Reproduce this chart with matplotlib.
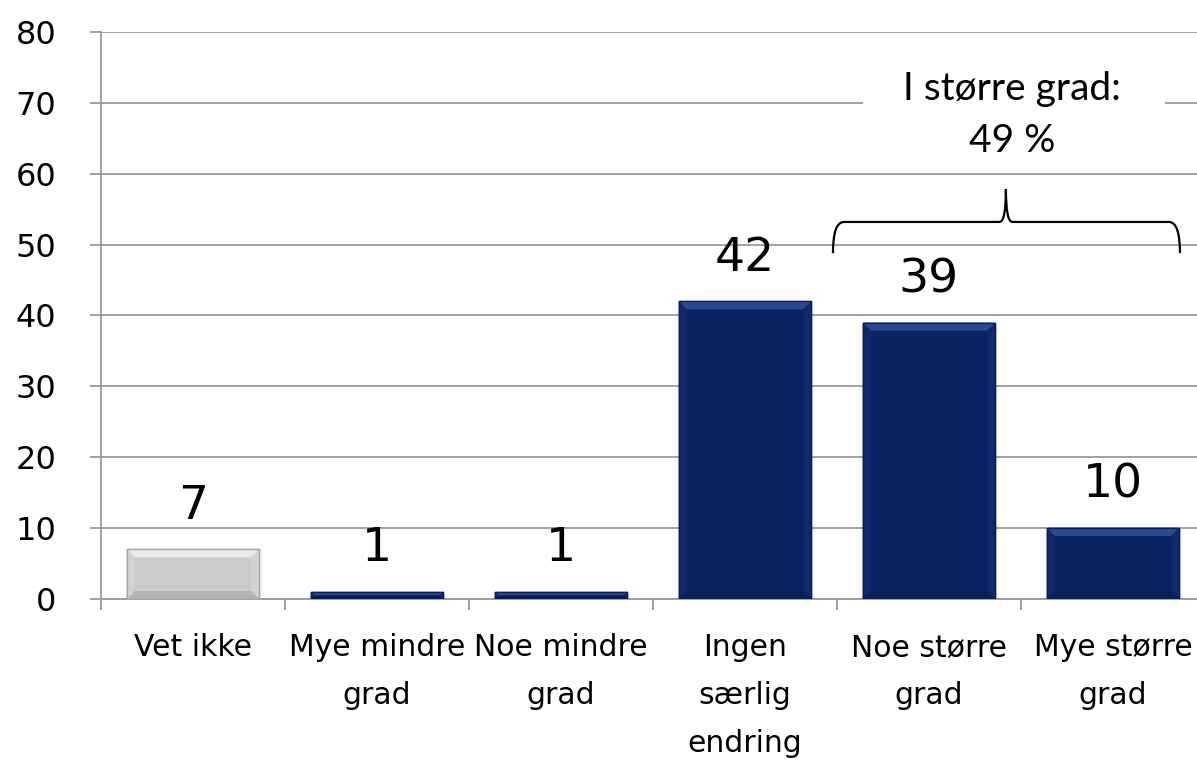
import matplotlib
matplotlib.use("Agg")
import matplotlib.pyplot as plt
from matplotlib.patches import Polygon, Rectangle, PathPatch
from matplotlib.path import Path

plt.rcParams["font.family"] = ["DejaVu Sans"]

categories = ["Vet ikke", "Mye mindre\ngrad", "Noe mindre\ngrad",
              "Ingen\nsærlig\nendring", "Noe større\ngrad", "Mye større\ngrad"]
values = [7, 1, 1, 42, 39, 10]
value_labels = ["7", "1", "1", "42", "39", "10"]
yticks = [0, 10, 20, 30, 40, 50, 60, 70, 80]
bracket_text = "I større grad:\n49 %"

W, H = 1197, 760
fig = plt.figure(figsize=(W / 100, H / 100), dpi=100)
ax = fig.add_axes([101 / W, 1 - 599 / H, 1104 / W, (599 - 32) / H])

GRID = "#9a9a9a"
ax.set_xlim(-0.5, len(categories) - 0.5)
ax.set_ylim(0, 80)
ax.set_yticks(yticks)
ax.set_yticklabels([str(t) for t in yticks])
for s in ["top", "right"]:
    ax.spines[s].set_visible(False)
for s in ["left", "bottom"]:
    ax.spines[s].set_color(GRID)
    ax.spines[s].set_linewidth(1.3)
ax.yaxis.grid(True, color=GRID, linewidth=1.3)
ax.set_axisbelow(True)

ax.tick_params(axis="y", length=8, width=1.3, color=GRID, pad=24,
               labelsize=23, labelcolor="black")
ax.set_xticks(range(len(categories)))
ax.set_xticklabels(categories, fontsize=21.5, linespacing=1.83, va="top")
ax.tick_params(axis="x", which="major", length=0, pad=24.5)
ax.set_xticks([i - 0.5 for i in range(len(categories) + 1)], minor=True)
ax.tick_params(axis="x", which="minor", length=8, width=1.3, color=GRID)

colors = ["#cbcbcb"] + ["#0a2463"] * 5
bevels = [("#e9e9e9", "#d2d2d2", "#b4b4b4")] + [("#2a4b92", "#0e2a6c", "#081e55")] * 5
edges = ["#a5a5a5"] + ["#0a1f58"] * 5
bars = ax.bar(range(len(categories)), values, width=0.72, color=colors,
              edgecolor=edges, linewidth=1.0, zorder=3)

# bevel effect
px_x = 1 / 184.0
px_y = 80 / 567.0
for bar, (top_c, side_c, bot_c) in zip(bars, bevels):
    x0, w, h = bar.get_x(), bar.get_width(), bar.get_height()
    x1 = x0 + w
    by = min(8 * px_y, h / 2)
    bx = by / px_y * px_x
    ax.add_patch(Polygon([(x0, h), (x1, h), (x1 - bx, h - by), (x0 + bx, h - by)],
                         closed=True, facecolor=top_c, edgecolor="none", zorder=4))
    ax.add_patch(Polygon([(x0, 0), (x0 + bx, by), (x0 + bx, h - by), (x0, h)],
                         closed=True, facecolor=side_c, edgecolor="none", zorder=4))
    ax.add_patch(Polygon([(x1, 0), (x1 - bx, by), (x1 - bx, h - by), (x1, h)],
                         closed=True, facecolor=side_c, edgecolor="none", zorder=4))
    ax.add_patch(Polygon([(x0, 0), (x1, 0), (x1 - bx, by), (x0 + bx, by)],
                         closed=True, facecolor=bot_c, edgecolor="none", zorder=4))
    ax.add_patch(Rectangle((x0, 0), w, h, facecolor="none", edgecolor=bar.get_edgecolor(),
                           linewidth=1.0, zorder=5))

for i, (v, lab) in enumerate(zip(values, value_labels)):
    ax.annotate(lab, xy=(i, v), xytext=(0, 22), textcoords="offset points",
                ha="center", va="baseline", fontsize=34, color="black", zorder=6)

# white box behind the bracket text (interrupts grid line)
ax.add_patch(Rectangle((3.641, 62.0), 1.642, 14.0, facecolor="white",
                       edgecolor="none", zorder=2))
ax.text(4.45, 68.3, bracket_text, ha="center", va="center", fontsize=28,
        family=["Lato", "DejaVu Sans"], linespacing=1.55, zorder=6)

# curly brace
xL, xR, xm = 3.478, 5.364, 4.418
yb, yt, ytip = 48.8, 53.2, 57.8
r = 0.06
rm = 0.035
verts = [(xL, yb), (xL, yt), (xL + r, yt),
         (xm - rm, yt), (xm, yt), (xm, ytip),
         (xm, yt), (xm + rm, yt),
         (xR - r, yt), (xR, yt), (xR, yb)]
codes = [Path.MOVETO, Path.CURVE3, Path.CURVE3,
         Path.LINETO, Path.CURVE3, Path.CURVE3,
         Path.CURVE3, Path.CURVE3,
         Path.LINETO, Path.CURVE3, Path.CURVE3]
ax.add_patch(PathPatch(Path(verts, codes), facecolor="none", edgecolor="black",
                       linewidth=1.6, zorder=6, clip_on=False))

fig.savefig("out.png", dpi=100)
